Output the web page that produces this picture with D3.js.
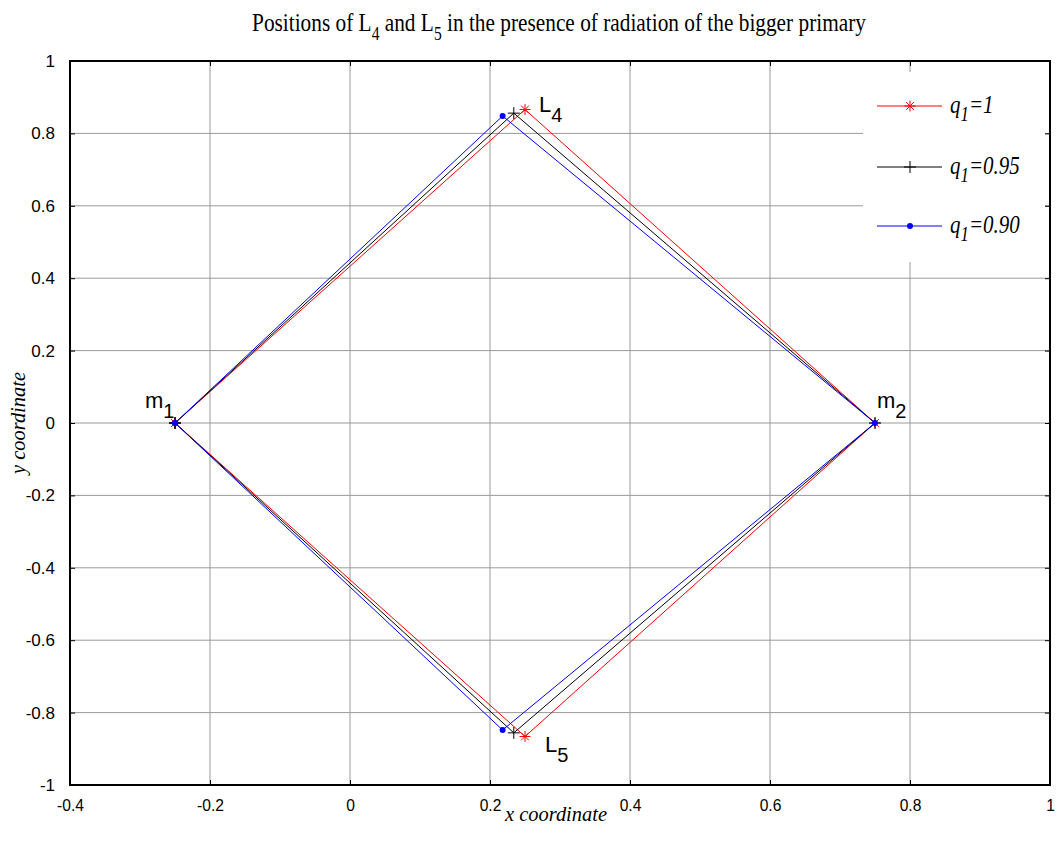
<!DOCTYPE html>
<html>
<head>
<meta charset="utf-8">
<script src="https://cdn.jsdelivr.net/npm/d3@7"></script>
<style>
  body { margin: 0; background: #fff; }
  svg { display: block; }
</style>
</head>
<body>
<svg id="chart"></svg>
<script>
'use strict';

var width = 1059,
    height = 855;

var margin = { top: 61, right: 9, bottom: 70, left: 70 };

// vertices of each triangle set: m1, L4, m2, L5, back to m1
var seriesNames = ['q1=1', 'q1=0.95', 'q1=0.90'];
var seriesLabels = ['1', '0.95', '0.90'];
var seriesColors = ['#ff0000', '#000000', '#0000ff'];
var seriesMarkers = ['star', 'plus', 'dot'];
var xVals = [
  [-0.25, 0.250, 0.75, 0.250, -0.25],
  [-0.25, 0.234, 0.75, 0.234, -0.25],
  [-0.25, 0.218, 0.75, 0.218, -0.25]
];
var yVals = [
  [0, 0.866, 0, -0.866, 0],
  [0, 0.856, 0, -0.856, 0],
  [0, 0.848, 0, -0.848, 0]
];

var xTicks = [-0.4, -0.2, 0, 0.2, 0.4, 0.6, 0.8, 1];
var yTicks = [-1, -0.8, -0.6, -0.4, -0.2, 0, 0.2, 0.4, 0.6, 0.8, 1];

var svg = d3.select('#chart')
  .attr('width', width)
  .attr('height', height);

var innerW = width - margin.left - margin.right,
    innerH = height - margin.top - margin.bottom;

var x = d3.scaleLinear().domain([-0.4, 1]).range([margin.left, margin.left + innerW]);
var y = d3.scaleLinear().domain([-1, 1]).range([margin.top + innerH, margin.top]);

// grid
var grid = svg.append('g').attr('class', 'grid');
grid.selectAll('line.gx')
  .data(xTicks.slice(1, -1))
  .enter().append('line')
  .attr('x1', d => x(d)).attr('x2', d => x(d))
  .attr('y1', y(-1)).attr('y2', y(1))
  .style('stroke', '#9a9a9a').style('stroke-width', 1);
grid.selectAll('line.gy')
  .data(yTicks.slice(1, -1))
  .enter().append('line')
  .attr('x1', x(-0.4)).attr('x2', x(1))
  .attr('y1', d => y(d)).attr('y2', d => y(d))
  .style('stroke', '#9a9a9a').style('stroke-width', 1);

// axes
var sansFont = '"Liberation Sans", Arial, sans-serif';
var fmt = d => String(+d.toFixed(1));
svg.append('g')
  .attr('transform', 'translate(0,' + y(-1) + ')')
  .call(d3.axisBottom(x).tickValues(xTicks).tickSize(-5).tickPadding(14).tickFormat(fmt))
  .attr('font-family', sansFont).attr('font-size', 17)
  .call(g => g.select('.domain').remove())
  .call(g => g.selectAll('.tick text').attr('fill', '#000').attr('transform', 'scale(0.92,1)'));
svg.append('g')
  .attr('transform', 'translate(' + x(-0.4) + ',0)')
  .call(d3.axisLeft(y).tickValues(yTicks).tickSize(-5).tickPadding(15).tickFormat(fmt))
  .attr('font-family', sansFont).attr('font-size', 17)
  .call(g => g.select('.domain').remove())
  .call(g => g.selectAll('.tick text').attr('fill', '#000'));
svg.append('g')
  .attr('transform', 'translate(0,' + y(1) + ')')
  .call(d3.axisTop(x).tickValues(xTicks).tickSize(-5).tickFormat(''))
  .call(g => g.select('.domain').remove());
svg.append('g')
  .attr('transform', 'translate(' + x(1) + ',0)')
  .call(d3.axisRight(y).tickValues(yTicks).tickSize(-5).tickFormat(''))
  .call(g => g.select('.domain').remove());

svg.append('rect')
  .attr('x', x(-0.4)).attr('y', y(1))
  .attr('width', x(1) - x(-0.4)).attr('height', y(-1) - y(1))
  .style('fill', 'none').style('stroke', '#000').style('stroke-width', 2);

// markers
function drawMarker(g, type, color, cx, cy) {
  if (type === 'star') {
    var r = 5.5;
    [0, 45, 90, 135].forEach(a => {
      var rad = a * Math.PI / 180;
      g.append('line')
        .attr('x1', cx - r * Math.cos(rad)).attr('y1', cy - r * Math.sin(rad))
        .attr('x2', cx + r * Math.cos(rad)).attr('y2', cy + r * Math.sin(rad))
        .style('stroke', color).style('stroke-width', 1);
    });
  } else if (type === 'plus') {
    var p = 6;
    g.append('line').attr('x1', cx - p).attr('x2', cx + p).attr('y1', cy).attr('y2', cy)
      .style('stroke', color).style('stroke-width', 1);
    g.append('line').attr('x1', cx).attr('x2', cx).attr('y1', cy - p).attr('y2', cy + p)
      .style('stroke', color).style('stroke-width', 1);
  } else {
    g.append('circle').attr('cx', cx).attr('cy', cy).attr('r', 3)
      .style('fill', color);
  }
}

var line = d3.line().x(d => x(d[0])).y(d => y(d[1]));

seriesNames.forEach((name, i) => {
  var pts = xVals[i].map((xv, j) => [xv, yVals[i][j]]);
  var g = svg.append('g').attr('class', 'series');
  g.append('path')
    .attr('d', line(pts))
    .style('fill', 'none')
    .style('stroke', seriesColors[i])
    .style('stroke-width', 1);
  pts.forEach(p => drawMarker(g, seriesMarkers[i], seriesColors[i], x(p[0]), y(p[1])));
});

// point labels
function subLabel(px, py, main, sub) {
  var t = svg.append('text')
    .attr('x', px).attr('y', py)
    .style('font-family', sansFont)
    .style('font-size', '22px');
  t.append('tspan').text(main);
  t.append('tspan').attr('dy', 10).style('font-size', '20px').text(sub);
}
subLabel(539, 112, 'L', '4');
subLabel(545, 752, 'L', '5');
subLabel(145, 408, 'm', '1');
subLabel(877, 408, 'm', '2');

// legend
var serif = '"Liberation Serif", "Times New Roman", serif';
var legend = svg.append('g');
legend.append('rect')
  .attr('x', 863).attr('y', 72).attr('width', 182).attr('height', 190)
  .style('fill', '#fff');
var rowY = [106, 167, 226];
seriesNames.forEach((name, i) => {
  legend.append('line')
    .attr('x1', 877).attr('x2', 942).attr('y1', rowY[i]).attr('y2', rowY[i])
    .style('stroke', seriesColors[i]).style('stroke-width', 1);
  drawMarker(legend, seriesMarkers[i], seriesColors[i], 910, rowY[i]);
  var t = legend.append('text')
    .attr('transform', 'translate(950,' + (rowY[i] + 7) + ') scale(0.84,1)')
    .style('font-family', serif)
    .style('font-style', 'italic')
    .style('font-size', '25px');
  t.append('tspan').text('q');
  t.append('tspan').attr('dy', 8).style('font-size', '20px').text('1');
  t.append('tspan').attr('dy', -8).text('=' + seriesLabels[i]);
});

// title
var title = svg.append('text')
  .attr('transform', 'translate(559,31) scale(0.82,1)')
  .attr('text-anchor', 'middle')
  .style('font-family', serif)
  .style('font-size', '26px');
title.append('tspan').text('Positions of L');
title.append('tspan').attr('dy', 9).style('font-size', '19px').text('4');
title.append('tspan').attr('dy', -9).text(' and L');
title.append('tspan').attr('dy', 9).style('font-size', '19px').text('5');
title.append('tspan').attr('dy', -9).text(' in the presence of radiation of the bigger primary');

// axis labels
svg.append('text')
  .attr('x', 505).attr('y', 821)
  .attr('textLength', 102)
  .attr('lengthAdjust', 'spacingAndGlyphs')
  .style('font-family', serif).style('font-style', 'italic').style('font-size', '21px')
  .text('x coordinate');
svg.append('text')
  .attr('transform', 'translate(25,474) rotate(-90)')
  .attr('textLength', 102)
  .attr('lengthAdjust', 'spacingAndGlyphs')
  .style('font-family', serif).style('font-style', 'italic').style('font-size', '21px')
  .text('y coordinate');
</script>
</body>
</html>
